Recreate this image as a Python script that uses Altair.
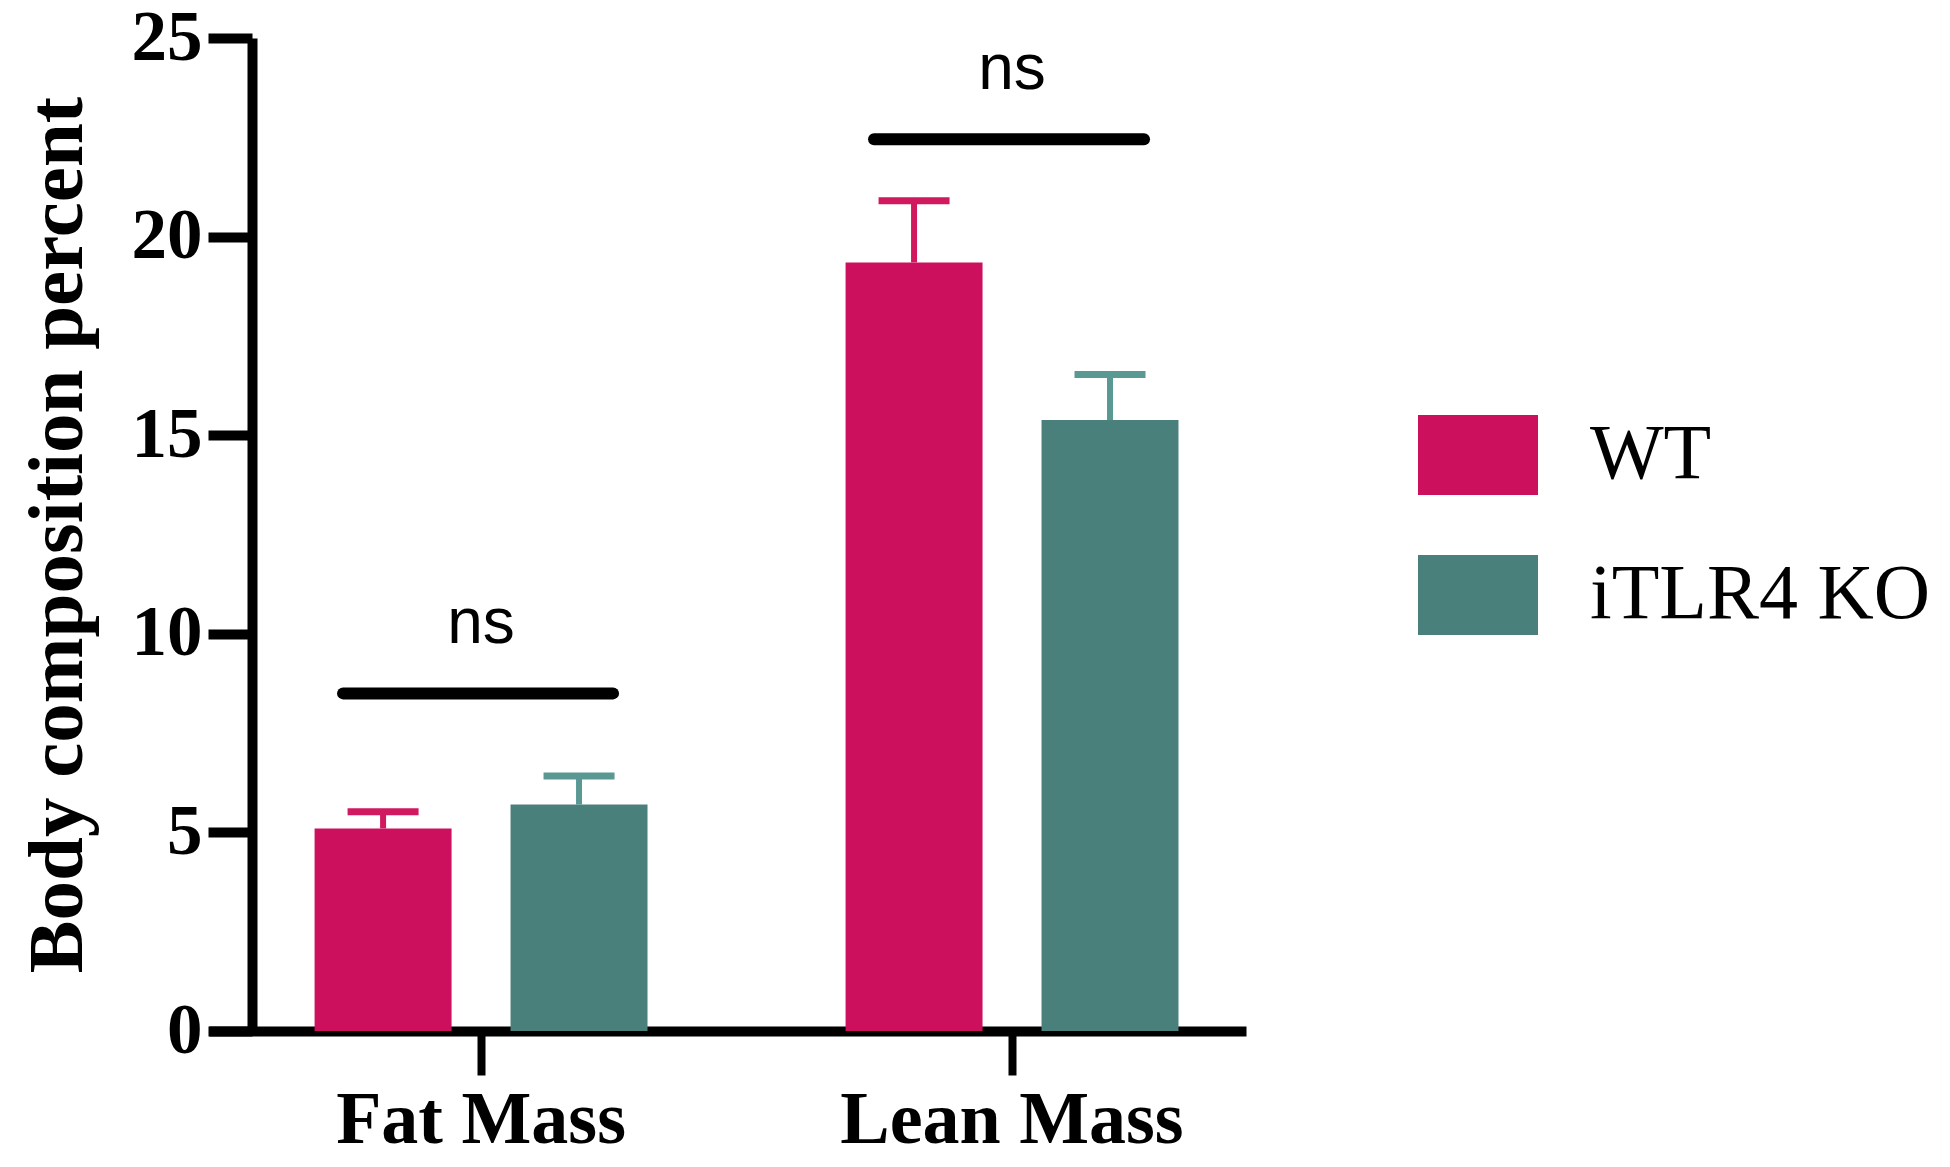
import altair as alt
import pandas as pd

groups = ["Fat Mass", "Fat Mass", "Lean Mass", "Lean Mass"]
genotypes = ["WT", "iTLR4 KO", "WT", "iTLR4 KO"]
means = [5.1, 5.7, 19.35, 15.38]
sems = [0.42, 0.72, 1.55, 1.15]

sig_groups = ["Fat Mass", "Lean Mass"]
sig_y = [8.5, 22.45]
sig_labels = ["ns", "ns"]

geno_order = ["WT", "iTLR4 KO"]
bar_colors = ["#CC105E", "#4A807C"]
err_colors = ["#D0195F", "#5A9894"]
y_ticks = [0, 5, 10, 15, 20, 25]

df = pd.DataFrame({"group": groups, "genotype": genotypes, "mean": means, "sem": sems})
df["upper"] = df["mean"] + df["sem"]
sig = pd.DataFrame({"group": sig_groups, "y": sig_y, "label": sig_labels})

SERIF = "Liberation Serif"
SANS = "Liberation Sans"

xscale = alt.Scale(paddingInner=0.373, paddingOuter=0.163, align=0.61)
xoff_scale = alt.Scale(domain=geno_order, paddingInner=0.301, paddingOuter=0)
yscale = alt.Scale(domain=[0, 25], nice=False)

x_enc = alt.X(
    "group:N",
    scale=xscale,
    sort=sig_groups,
    title=None,
    axis=alt.Axis(
        labelAngle=0,
        labelFont=SERIF,
        labelFontWeight="bold",
        labelFontSize=74,
        labelColor="black",
        labelPadding=9,
        labelLimit=800,
        domainColor="black",
        domainWidth=10,
        tickColor="black",
        tickWidth=8,
        tickSize=44,
        ticks=True,
    ),
)

y_enc = alt.Y(
    "mean:Q",
    scale=yscale,
    title="Body composition percent",
    axis=alt.Axis(
        values=y_ticks,
        grid=False,
        offset=-43,
        labelFont=SERIF,
        labelFontWeight="bold",
        labelFontSize=71,
        labelColor="black",
        labelPadding=6,
        domainColor="black",
        domainWidth=10,
        tickColor="black",
        tickWidth=10,
        tickSize=44,
        titleFont=SERIF,
        titleFontWeight="bold",
        titleFontSize=79,
        titleColor="black",
        titlePadding=33,
    ),
)

base = alt.Chart(df)

bars = base.mark_bar(opacity=1).encode(
    x=x_enc,
    xOffset=alt.XOffset("genotype:N", scale=xoff_scale, sort=geno_order),
    y=y_enc,
    color=alt.Color(
        "genotype:N",
        scale=alt.Scale(domain=geno_order, range=bar_colors),
        sort=geno_order,
        title=None,
        legend=alt.Legend(
            orient="none",
            legendX=1209,
            legendY=357,
            symbolType="M-1,-0.667H1V0.667H-1Z",
            symbolSize=14400,
            symbolStrokeWidth=0,
            symbolOpacity=1,
            labelFont=SERIF,
            labelFontSize=78,
            labelColor="black",
            labelOffset=52,
            rowPadding=39,
            padding=0,
            labelLimit=600,
        ),
    ),
)

stems = base.mark_rule(strokeWidth=6, opacity=1).encode(
    x=alt.X("group:N", sort=sig_groups),
    xOffset=alt.XOffset("genotype:N", sort=geno_order),
    y=alt.Y("mean:Q"),
    y2="upper:Q",
    stroke=alt.Stroke("genotype:N", scale=alt.Scale(domain=geno_order, range=err_colors), legend=None),
)

caps = base.mark_tick(thickness=7, size=71, opacity=1).encode(
    x=alt.X("group:N", sort=sig_groups),
    xOffset=alt.XOffset("genotype:N", sort=geno_order),
    y=alt.Y("upper:Q"),
    fill=alt.Fill("genotype:N", scale=alt.Scale(domain=geno_order, range=err_colors), legend=None),
)

sig_lines = alt.Chart(sig).mark_rule(
    strokeWidth=12, strokeCap="round", color="black", xOffset=-138, x2Offset=132
).encode(
    x=alt.X("group:N", sort=sig_groups),
    x2=alt.X2("group:N"),
    y=alt.Y("y:Q"),
)

sig_text = alt.Chart(sig).mark_text(
    font=SANS, fontSize=64, color="black", baseline="alphabetic", align="center", dy=-50
).encode(
    x=alt.X("group:N", sort=sig_groups),
    y=alt.Y("y:Q"),
    text="label:N",
)

chart = (
    alt.layer(bars, stems, caps, sig_lines, sig_text)
    .properties(
        width=1037,
        height=993,
        background="white",
        autosize=alt.AutoSizeParams(type="none"),
        padding={"left": 201, "top": 30, "right": 696, "bottom": 127},
    )
    .configure_view(stroke="transparent", strokeWidth=0)
)

chart.save("out.html", embed_options={"renderer": "svg", "actions": False})
